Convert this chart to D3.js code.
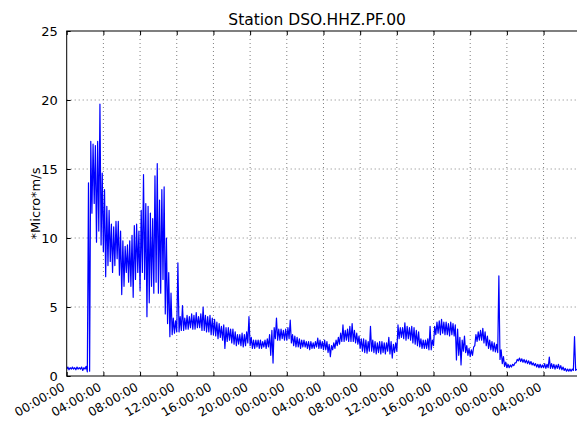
<!DOCTYPE html>
<html><head><meta charset="utf-8">
<script src="https://cdn.jsdelivr.net/npm/d3@7"></script>
<style>
html,body{margin:0;padding:0;background:#fff;}
text{font-family:"DejaVu Sans",sans-serif;fill:#000;}
</style></head>
<body><svg id="c" width="577" height="421"></svg>
<script>
const title = "Station DSO.HHZ.PF.00";
const yLabel = "*Micro*m/s";
const binHours = 0.25;          // each bin: min/max of the trace within 15 minutes
const xDomainHours = [0, 55.7];
const xTickHours = [0,4,8,12,16,20,24,28,32,36,40,44,48,52];
const xTickLabels = ["00:00:00","04:00:00","08:00:00","12:00:00","16:00:00","20:00:00","00:00:00","04:00:00","08:00:00","12:00:00","16:00:00","20:00:00","00:00:00","04:00:00"];
const yTicks = [0,5,10,15,20,25];
const bandLow = [
0.5,0.45,0.5,0.5,0.45,0.5,0.5,0.4,0.5,0.3,
0.35,11.8,12.5,9.7,10.5,9.5,9.0,7.2,8.0,8.3,
7.5,8.0,8.5,7.3,5.9,6.5,7.5,6.8,6.5,5.7,
7.0,7.5,6.2,7.5,7.0,4.3,5.3,6.5,6.0,6.8,
6.0,6.0,7.0,4.5,3.8,2.85,3.0,3.1,3.2,3.2,
3.3,3.3,3.4,3.4,3.5,3.4,3.4,3.5,3.5,3.3,
3.3,3.2,3.2,3.0,3.0,2.9,2.7,2.8,2.6,2.0,
2.5,2.6,2.4,2.3,2.2,2.3,2.2,2.1,2.2,2.4,
2.2,2.0,2.0,2.1,2.0,2.0,2.1,2.0,2.1,1.5,
0.94,2.7,2.6,2.6,2.7,2.6,2.6,2.7,2.4,2.2,
2.1,2.1,2.0,2.1,2.1,2.0,1.9,2.0,2.0,2.1,
2.0,2.0,1.9,1.9,1.7,1.4,1.9,2.0,2.2,2.3,
2.5,2.5,2.6,2.5,2.5,2.5,2.4,2.3,2.0,1.8,
1.7,1.65,1.8,1.8,1.7,1.6,1.7,1.6,1.7,1.6,
1.8,1.6,1.3,1.7,1.8,2.7,2.8,2.7,2.6,2.7,
2.6,2.4,2.3,2.2,2.1,2.0,2.0,2.0,1.9,1.9,
2.2,3.0,3.1,3.0,3.1,3.0,3.0,2.9,3.0,2.9,
1.16,1.5,0.8,1.8,1.7,1.5,1.4,1.5,2.2,2.5,
2.6,2.6,2.4,2.2,2.0,1.9,1.8,1.75,1.7,1.2,
0.9,0.7,0.6,0.6,0.65,0.75,0.95,1.1,1.05,1.0,
0.95,0.9,0.85,0.8,0.75,0.65,0.6,0.6,0.6,0.55,
0.6,0.55,0.55,0.5,0.55,0.5,0.45,0.4,0.35,0.35,
0.35,0.4,0.4
];
const bandHigh = [
0.65,0.6,0.65,0.6,0.65,0.6,0.65,0.6,0.7,14.0,
17.0,16.8,16.7,17.0,19.7,14.7,13.5,12.3,12.0,11.0,
10.8,11.2,11.2,10.5,9.8,9.4,9.5,9.8,10.2,10.9,
11.0,10.5,12.0,14.6,12.5,12.3,11.8,11.4,14.5,15.4,
12.75,13.5,13.7,10.0,7.5,6.0,4.2,4.0,8.2,4.3,
5.1,4.2,4.4,4.3,4.5,4.4,4.6,4.3,4.5,5.0,
4.4,4.3,4.4,4.2,4.1,3.9,3.8,3.6,3.7,3.5,
3.5,3.4,3.4,3.2,3.0,3.0,3.1,3.0,3.2,4.3,
2.8,2.6,2.6,2.6,2.6,2.5,2.6,2.7,3.0,3.3,
3.5,4.2,3.4,3.4,3.3,3.4,3.5,4.05,3.0,2.9,
2.8,2.7,2.6,2.6,2.5,2.5,2.5,2.4,2.5,2.75,
2.6,2.5,2.6,2.5,2.3,2.2,2.4,2.6,2.8,3.1,
3.7,3.3,3.4,3.6,3.8,3.3,3.1,2.9,2.7,2.7,
2.6,2.5,3.6,2.6,2.5,2.4,2.5,2.5,2.4,2.4,
2.8,2.5,2.3,2.4,3.7,3.5,3.5,3.86,3.6,3.5,
3.6,3.5,3.3,3.2,2.7,2.6,2.6,2.7,3.6,2.6,
3.6,3.9,4.0,4.1,3.9,3.9,3.8,3.9,3.8,3.7,
3.4,2.8,2.6,2.9,2.2,2.0,1.9,2.1,3.0,3.2,
3.3,3.45,3.2,2.9,2.6,2.5,2.4,2.3,7.25,1.9,
1.4,1.0,0.85,0.8,0.85,0.95,1.2,1.3,1.25,1.2,
1.15,1.1,1.05,0.95,0.9,0.85,0.85,0.8,0.9,0.85,
1.37,0.9,0.85,0.8,0.85,0.75,0.65,0.55,0.5,0.5,
0.5,2.85,0.5
];

const svg = d3.select("#c");
const pl = 66.7, pr = 577.5, pt = 31, pb = 376;
const x = d3.scaleLinear().domain(xDomainHours).range([pl, pr]);
const y = d3.scaleLinear().domain([0, 25]).range([pb, pt]);

svg.append("defs").append("clipPath").attr("id","clip")
  .append("rect").attr("x",pl).attr("y",pt).attr("width",pr-pl).attr("height",pb-pt);

// grid
const g = svg.append("g");
g.selectAll(".vg").data(xTickHours.slice(1)).join("line")
  .attr("x1",d=>x(d)).attr("x2",d=>x(d)).attr("y1",pt).attr("y2",pb)
  .attr("stroke","#000").attr("stroke-width",0.5).attr("stroke-dasharray","1,3");
g.selectAll(".hg").data(yTicks.slice(1,-1)).join("line")
  .attr("x1",pl).attr("x2",pr).attr("y1",d=>y(d)).attr("y2",d=>y(d))
  .attr("stroke","#000").attr("stroke-width",0.5).attr("stroke-dasharray","1,3");

// data line: zig-zag through each bin's min and max
const pts = bandLow.flatMap((lo,i)=>[[i*binHours, lo],[i*binHours + binHours/2, bandHigh[i]]]);
const line = d3.line().x(d=>x(d[0])).y(d=>y(d[1]));
svg.append("path").datum(pts).attr("d",line).attr("clip-path","url(#clip)")
  .attr("fill","none").attr("stroke","#0000ff").attr("stroke-width",1.2).attr("stroke-linejoin","round");

// axes
const xAxis = d3.axisBottom(x).tickValues(xTickHours).tickFormat((d,i)=>xTickLabels[i]).tickSizeInner(-4).tickSizeOuter(0).tickPadding(0);
const xa = svg.append("g").attr("transform",`translate(0,${pb})`).call(xAxis);
xa.select(".domain").remove();
xa.selectAll(".tick line").attr("stroke","#000");
xa.selectAll(".tick text").attr("font-size",12.3).attr("text-anchor","end")
  .attr("dy",0).attr("y",0)
  .attr("transform","translate(-1.5,13.5) rotate(-30)");

const xTop = d3.axisTop(x).tickValues(xTickHours).tickFormat("").tickSizeInner(-4).tickSizeOuter(0);
const xt = svg.append("g").attr("transform",`translate(0,${pt})`).call(xTop);
xt.select(".domain").remove();

const yAxis = d3.axisLeft(y).tickValues(yTicks).tickSizeInner(-4).tickSizeOuter(0).tickPadding(9);
const ya = svg.append("g").attr("transform",`translate(${pl},0)`).call(yAxis);
ya.select(".domain").remove();
ya.selectAll(".tick text").attr("font-size",13);

// spines
svg.append("rect").attr("x",pl).attr("y",pt).attr("width",pr-pl).attr("height",pb-pt)
  .attr("fill","none").attr("stroke","#000").attr("stroke-width",1);

svg.append("text").attr("x",(pl+pr)/2 - 5).attr("y",25).attr("text-anchor","middle")
  .attr("font-size",15.5).text(title);
svg.append("text").attr("transform",`translate(40,${(pt+pb)/2}) rotate(-90)`)
  .attr("text-anchor","middle").attr("font-size",13).text(yLabel);
</script></body></html>
